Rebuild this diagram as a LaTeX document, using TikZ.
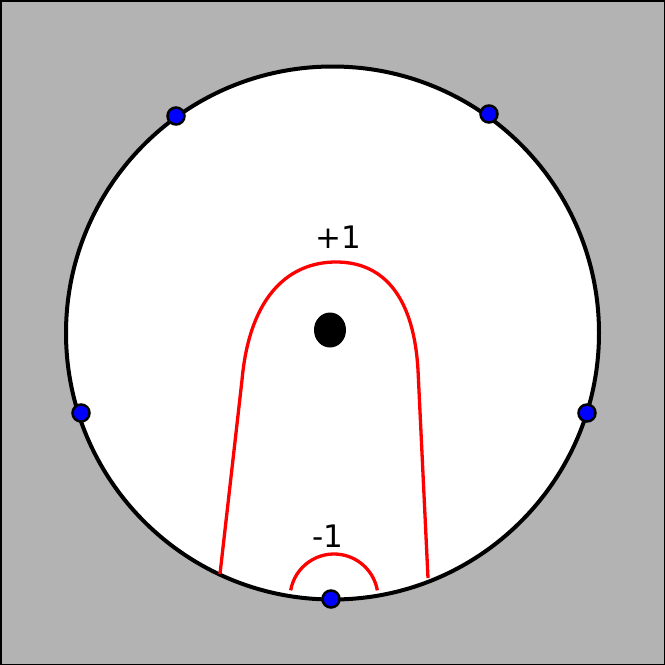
\documentclass[tikz,border=0pt]{standalone}
\usepackage{fontspec}
\setmainfont{DejaVu Sans}
\definecolor{bggray}{RGB}{179,179,179}
\definecolor{dotblue}{RGB}{0,0,255}
\begin{document}
\begin{tikzpicture}[x=1pt,y=-1pt,
  bluedot/.style={circle,fill=dotblue,draw=black,line width=2.5pt,minimum size=17pt,inner sep=0pt},
  redline/.style={draw=red,line width=3.3pt},
  lab/.style={font=\fontsize{31}{36}\selectfont,inner sep=0pt}]
\useasboundingbox (0,0) rectangle (665,665);
\draw[fill=bggray,draw=black,line width=1.5pt] (0.75,0.75) rectangle (664.25,664.25);
\draw[fill=white,draw=black,line width=4pt] (332.5,333) circle (266.5);
\fill[black] (330,330) ellipse (16 and 17.5);
\draw[redline] (220,574) -- (242,380) .. controls (250,292) and (292,262) .. (336,262)
  .. controls (386,262) and (414,300) .. (418,370) -- (428,578);
\draw[redline] (334,598) ++(190:44) arc[start angle=190,end angle=350,radius=44];
\node[lab] (p1) at (338,237) {+1};
\node[lab] (m1) at (328,536) {-1};
\node[bluedot] (d1) at (176,116) {};
\node[bluedot] (d2) at (489,114) {};
\node[bluedot] (d3) at (81,413) {};
\node[bluedot] (d4) at (587,413) {};
\node[bluedot] (d5) at (331,599) {};
\end{tikzpicture}
\end{document}
